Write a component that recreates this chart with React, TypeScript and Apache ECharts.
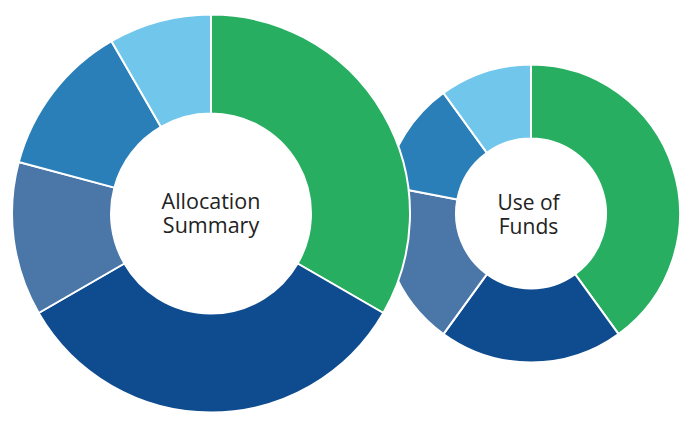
import React, { useEffect, useRef } from "react";
import * as echarts from "echarts";

const categories = ["Green", "Dark Blue", "Steel Blue", "Blue", "Light Blue"];
const colors = ["#27ae60", "#0f4c8f", "#4a77a8", "#2a7fb8", "#71c6ec"];
const allocationValues = [40, 40, 15, 15, 10];
const fundsValues = [40, 20, 18, 12, 10];
const allocationTitle = ["Allocation", "Summary"];
const fundsTitle = ["Use of", "Funds"];

export default function App() {
  const ref = useRef<HTMLDivElement>(null);
  useEffect(() => {
    document.body.style.margin = "0";
    const chart = echarts.init(ref.current!, null, { renderer: "svg" });
    const mk = (vals: number[]) =>
      vals.map((v, i) => ({ name: categories[i], value: v, itemStyle: { color: colors[i] } }));
    const txt = (t: string, x: number, y: number, fs: number) => ({
      type: "text",
      x,
      y,
      z: 10,
      style: {
        text: t,
        fontFamily: "Open Sans",
        fontSize: fs,
        fontWeight: 500,
        fill: "#222222",
        align: "center",
        verticalAlign: "middle",
      },
    });
    chart.setOption({
      animation: false,
      series: [
        {
          type: "pie",
          center: [531, 213.5],
          radius: [75, 149],
          startAngle: 90,
          clockwise: true,
          label: { show: false },
          labelLine: { show: false },
          emphasis: { disabled: true },
          itemStyle: { borderColor: "#ffffff", borderWidth: 2 },
          data: mk(fundsValues),
          z: 1,
        },
        {
          type: "pie",
          center: [211, 213.5],
          radius: [100, 199],
          startAngle: 90,
          clockwise: true,
          label: { show: false },
          labelLine: { show: false },
          emphasis: { disabled: true },
          itemStyle: { borderColor: "#ffffff", borderWidth: 2 },
          data: mk(allocationValues),
          z: 2,
        },
      ],
      graphic: [
        txt(allocationTitle[0], 211, 200, 21.5),
        txt(allocationTitle[1], 211, 224, 21.5),
        txt(fundsTitle[0], 528.5, 202, 21),
        txt(fundsTitle[1], 528.5, 226, 21),
      ],
    });
    return () => chart.dispose();
  }, []);
  return <div ref={ref} style={{ width: 694, height: 425 }} />;
}
